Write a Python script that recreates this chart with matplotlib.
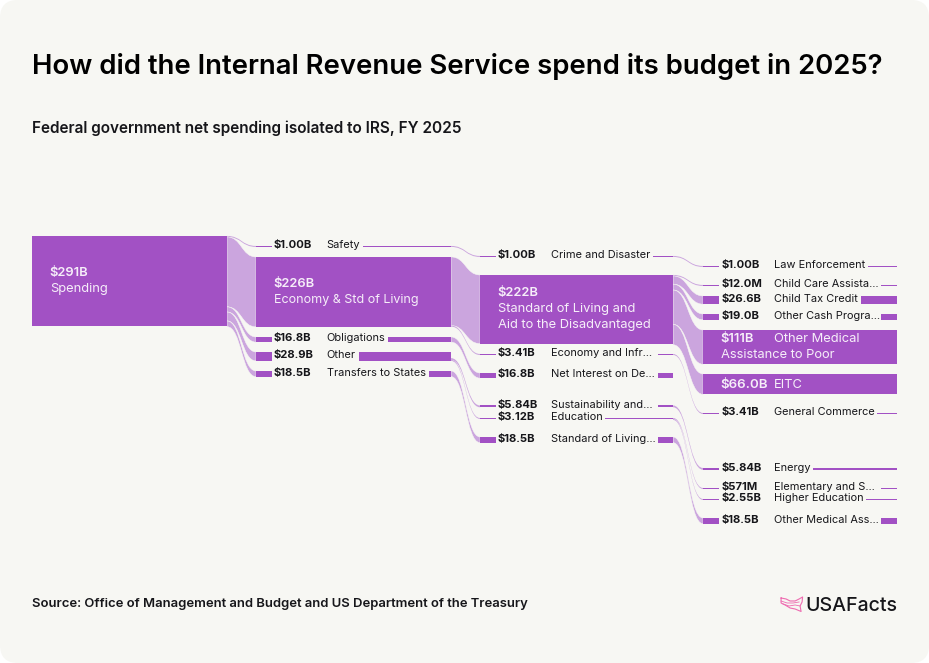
import matplotlib
matplotlib.use('Agg')
import matplotlib.pyplot as plt
from matplotlib.patches import Rectangle, FancyBboxPatch, PathPatch
from matplotlib.path import Path

NODE_COLOR = '#A251C4'
LINK_COLOR = '#CBA5DE'
CARD_COLOR = '#F7F7F3'
INK = '#16161A'
LOGO_COLOR = '#EE6BB0'
FONT = 'Inter'

# node values in $B, one list per column
spending_values = [291]
col2_names = ['Safety', 'Economy & Std of Living', 'Obligations', 'Other', 'Transfers to States']
col2_labels = ['$1.00B', '$226B', '$16.8B', '$28.9B', '$18.5B']
col2_values = [1.00, 226, 16.8, 28.9, 18.5]

col3_names = ['Crime and Disaster', 'Standard of Living and\nAid to the Disadvantaged', 'Economy and Infr…',
              'Net Interest on De…', 'Sustainability and…', 'Education', 'Standard of Living…']
col3_labels = ['$1.00B', '$222B', '$3.41B', '$16.8B', '$5.84B', '$3.12B', '$18.5B']
col3_values = [1.00, 222, 3.41, 16.8, 5.84, 3.12, 18.5]

col4_names = ['Law Enforcement', 'Child Care Assista…', 'Child Tax Credit', 'Other Cash Progra…',
              'Other Medical', 'EITC', 'General Commerce', 'Energy', 'Elementary and S…',
              'Higher Education', 'Other Medical Ass…']
col4_labels = ['$1.00B', '$12.0M', '$26.6B', '$19.0B', '$111B', '$66.0B', '$3.41B', '$5.84B',
               '$571M', '$2.55B', '$18.5B']
col4_values = [1.00, 0.012, 26.6, 19.0, 111, 66.0, 3.41, 5.84, 0.571, 2.55, 18.5]

# links: (source index, target index, value), target None leaves the source unrouted
links_1_2 = [(0, 0, 1.00), (0, 1, 226), (0, 2, 16.8), (0, 3, 28.9), (0, 4, 18.5)]
links_2_3 = [(0, 0, 1.00), (1, 1, 222), (1, 2, 3.41), (2, 3, 16.8), (3, None, 19.9), (3, 4, 5.84), (3, 5, 3.12),
             (4, 6, 18.5)]
links_3_4 = [(0, 0, 1.00), (1, 1, 0.012), (1, 2, 26.6), (1, 3, 19.0), (1, 4, 111), (1, 5, 66.0),
             (2, 6, 3.41), (4, 7, 5.84), (5, 8, 0.571), (5, 9, 2.55), (6, 10, 18.5)]

# layout
PX_PER_B = 90 / 291
COL_X = [(32, 227), (256, 451), (480, 673), (703, 897)]
COL1_TOPS = [236]
COL2_TOPS = [246, 257, 337, 352, 371]
COL3_TOPS = [256, 275, 354, 373, 405.5, 418, 437]
COL4_TOPS = [266, 285, 296, 314, 330, 374, 413, 468, 488, 499, 518]


def px(value):
    return max(value * PX_PER_B, 1.0)


def make_nodes(values, tops):
    return [{'top': t, 'h': px(v), 'offset': 0.0} for v, t in zip(values, tops)]


def draw_link(ax, x0, x1, y0, y1, h):
    xm = (x0 + x1) / 2
    verts = [(x0, y0), (xm, y0), (xm, y1), (x1, y1),
             (x1, y1 + h), (xm, y1 + h), (xm, y0 + h), (x0, y0 + h), (x0, y0)]
    codes = [Path.MOVETO, Path.CURVE4, Path.CURVE4, Path.CURVE4,
             Path.LINETO, Path.CURVE4, Path.CURVE4, Path.CURVE4, Path.CLOSEPOLY]
    # thin links would vanish under the separator edge
    lw = 0.35 if h > 3 else 0
    ax.add_patch(PathPatch(Path(verts, codes), facecolor=LINK_COLOR, edgecolor=CARD_COLOR,
                           linewidth=lw, zorder=2))


def draw_links(ax, links, sources, targets, x0, x1):
    for s, t, v in links:
        h = px(v)
        src = sources[s]
        if t is not None:
            draw_link(ax, x0, x1, src['top'] + src['offset'], targets[t]['top'], min(h, targets[t]['h']))
        src['offset'] += h


def draw_small(ax, node, x0, x1, label, name):
    # thin nodes run behind their labels, the card colour cuts them out
    ax.add_patch(Rectangle((x0, node['top']), x1 - x0, node['h'], color=NODE_COLOR, lw=0, zorder=3))
    y = node['top'] + node['h'] / 2 - 1.3
    ax.text(x0 + 18, y, label, fontsize=8.1, fontweight='bold', color=INK, va='center', family=FONT, zorder=5)
    t = ax.text(x0 + 70.5, y, name, fontsize=7.9, color=INK, va='center', family=FONT, zorder=5)
    bb = t.get_window_extent(ax.figure.canvas.get_renderer())
    mask_end = x0 + 178 if name.endswith('…') else bb.x1 + 3
    ax.add_patch(Rectangle((x0 + 16, node['top'] - 1), mask_end - (x0 + 16), node['h'] + 2,
                           color=CARD_COLOR, lw=0, zorder=4))


def draw_column(ax, nodes, xs, labels, names, big):
    x0, x1 = xs
    for i, node in enumerate(nodes):
        if i in big:
            ax.add_patch(Rectangle((x0, node['top']), x1 - x0, node['h'], color=NODE_COLOR, lw=0, zorder=3))
        else:
            draw_small(ax, node, x0, x1, labels[i], names[i])


fig = plt.figure(figsize=(9.291, 6.631), dpi=100, facecolor='white')
ax = fig.add_axes([0, 0, 1, 1])
ax.set_xlim(0, 929)
ax.set_ylim(663, 0)
ax.axis('off')

ax.add_patch(FancyBboxPatch((16, 16), 897, 631, boxstyle='round,pad=16,rounding_size=18',
                            facecolor=CARD_COLOR, edgecolor='none', zorder=0))

ax.text(32, 66.5, 'How did the Internal Revenue Service spend its budget in 2025?', fontsize=19.8,
        fontweight='semibold', color='black', va='center', family=FONT)
ax.text(32, 128, 'Federal government net spending isolated to IRS, FY 2025', fontsize=11.05,
        fontweight='semibold', color=INK, va='center', family=FONT)
ax.text(32, 604, 'Source: Office of Management and Budget and US Department of the Treasury', fontsize=9.4,
        fontweight='semibold', color=INK, va='center', family=FONT)
ax.text(897, 605.5, 'USAFacts', fontsize=14.1, fontweight='medium', color=INK, va='center', ha='right',
        family=FONT)

# logo outline
logo_x = [781, 786, 790, 795, 799, 802.5, 802, 800, 801, 795, 790, 785, 781, 781]
logo_y = [598, 599, 601, 601, 599, 597, 602, 606, 611.5, 609, 608, 605, 603, 598]
ax.plot(logo_x, logo_y, color=LOGO_COLOR, lw=0.8)
ax.plot([781, 787, 793, 799], [601, 603, 603, 602], color=LOGO_COLOR, lw=0.6)
ax.plot([783, 789, 795, 800], [604, 606, 605, 606], color=LOGO_COLOR, lw=0.6)

col1 = make_nodes(spending_values, COL1_TOPS)
col2 = make_nodes(col2_values, COL2_TOPS)
col3 = make_nodes(col3_values, COL3_TOPS)
col4 = make_nodes(col4_values, COL4_TOPS)

draw_links(ax, links_1_2, col1, col2, COL_X[0][1], COL_X[1][0])
draw_links(ax, links_2_3, col2, col3, COL_X[1][1], COL_X[2][0])
draw_links(ax, links_3_4, col3, col4, COL_X[2][1], COL_X[3][0])

draw_column(ax, col1, COL_X[0], ['$291B'], ['Spending'], {0})
draw_column(ax, col2, COL_X[1], col2_labels, col2_names, {1})
draw_column(ax, col3, COL_X[2], col3_labels, col3_names, {1})
draw_column(ax, col4, COL_X[3], col4_labels, col4_names, {4, 5})


def big_text(x, y, text, bold=False, size=9.3):
    ax.text(x, y, text, fontsize=size, fontweight='semibold' if bold else 'normal', color='#F6EEF9',
            va='center', family=FONT, zorder=6)


big_text(49.5, 272.5, '$291B', True)
big_text(50, 289, 'Spending')
big_text(273.5, 283.5, '$226B', True)
big_text(274, 300, col2_names[1], size=9.0)
big_text(497.5, 292.5, '$222B', True)
big_text(498, 309, 'Standard of Living and')
big_text(498, 325, 'Aid to the Disadvantaged')
big_text(720.5, 339, '$111B', True)
big_text(774, 339, 'Other Medical')
big_text(721, 355, 'Assistance to Poor')
big_text(720.5, 385, '$66.0B', True, size=9.6)
big_text(774, 385, 'EITC')

fig.savefig('out.png', dpi=100, facecolor='white')
